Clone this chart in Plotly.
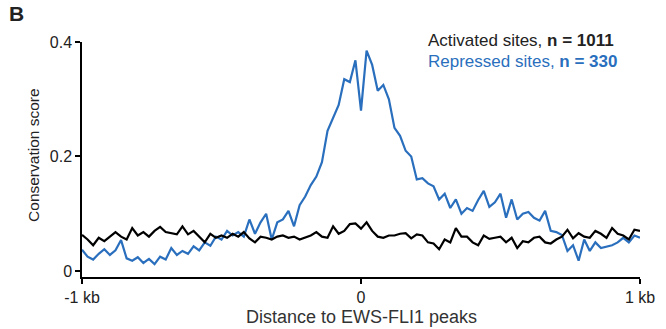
import plotly.graph_objects as go

step = 20
distance_bp = [-1000 + step * i for i in range(101)]

repressed = [
    0.037, 0.025, 0.020, 0.030, 0.038, 0.028, 0.036, 0.054, 0.022, 0.018,
    0.024, 0.014, 0.021, 0.012, 0.025, 0.020, 0.040, 0.028, 0.035, 0.030,
    0.043, 0.036, 0.050, 0.044, 0.060, 0.055, 0.070, 0.062, 0.068, 0.060,
    0.090, 0.065, 0.085, 0.100, 0.055, 0.085, 0.090, 0.105, 0.078, 0.115,
    0.130, 0.150, 0.165, 0.190, 0.245, 0.267, 0.290, 0.335, 0.330, 0.368,
    0.280, 0.385, 0.360, 0.315, 0.325, 0.300, 0.250, 0.236, 0.210, 0.200,
    0.160, 0.162, 0.153, 0.148, 0.125, 0.135, 0.110, 0.125, 0.100, 0.110,
    0.105, 0.124, 0.140, 0.112, 0.120, 0.135, 0.093, 0.125, 0.090, 0.100,
    0.103, 0.093, 0.088, 0.105, 0.070, 0.068, 0.063, 0.035, 0.045, 0.018,
    0.055, 0.035, 0.050, 0.040, 0.043, 0.045, 0.050, 0.058, 0.050, 0.062,
    0.058,
]

activated = [
    0.063, 0.055, 0.045, 0.058, 0.052, 0.060, 0.068, 0.060, 0.055, 0.075,
    0.062, 0.068, 0.060, 0.070, 0.077, 0.068, 0.066, 0.064, 0.078, 0.064,
    0.070, 0.060, 0.050, 0.065, 0.058, 0.062, 0.058, 0.065, 0.060, 0.068,
    0.057, 0.050, 0.060, 0.058, 0.055, 0.060, 0.062, 0.058, 0.060, 0.055,
    0.058, 0.062, 0.068, 0.060, 0.058, 0.078, 0.065, 0.070, 0.082, 0.083,
    0.074, 0.085, 0.070, 0.060, 0.058, 0.062, 0.062, 0.065, 0.066, 0.057,
    0.064, 0.062, 0.050, 0.048, 0.038, 0.055, 0.050, 0.075, 0.060, 0.060,
    0.050, 0.045, 0.062, 0.056, 0.058, 0.060, 0.050, 0.058, 0.040, 0.052,
    0.050, 0.058, 0.060, 0.050, 0.048, 0.055, 0.060, 0.072, 0.057, 0.066,
    0.060, 0.058, 0.070, 0.065, 0.058, 0.075, 0.065, 0.062, 0.055, 0.072,
    0.070,
]

x_tick_vals = [-1000, 0, 1000]
x_tick_text = ["-1 kb", "0", "1 kb"]
y_tick_vals = [0, 0.2, 0.4]
y_tick_text = ["0", "0.2", "0.4"]

blue = "#2a6fbd"
font_family = "Liberation Sans, Arial, sans-serif"

fig = go.Figure()
fig.add_trace(go.Scatter(x=distance_bp, y=repressed, mode="lines",
                         line=dict(color=blue, width=2.2), showlegend=False))
fig.add_trace(go.Scatter(x=distance_bp, y=activated, mode="lines",
                         line=dict(color="black", width=2.2), showlegend=False))

fig.update_layout(
    width=666, height=329,
    margin=dict(l=82, r=26, t=42, b=52),
    paper_bgcolor="white", plot_bgcolor="white",
    font=dict(family=font_family, color="#222222", size=16),
    xaxis=dict(range=[-1000, 1000], tickvals=x_tick_vals, ticktext=x_tick_text,
               showline=True, linecolor="black", linewidth=1.5,
               ticks="outside", ticklen=5, tickwidth=1.5, tickcolor="black",
               showgrid=False, zeroline=False, tickfont=dict(size=16)),
    yaxis=dict(range=[-0.0105, 0.4], tickvals=y_tick_vals, ticktext=y_tick_text,
               showline=True, linecolor="black", linewidth=1.5,
               ticks="outside", ticklen=5, tickwidth=1.5, tickcolor="black",
               showgrid=False, zeroline=False, tickfont=dict(size=16)),
)

fig.add_annotation(text="Conservation score", x=-0.088, y=0.519, xref="paper", yref="paper",
                   textangle=-90, showarrow=False, font=dict(size=15.5, color="#222222"),
                   xanchor="center", yanchor="middle")
fig.add_annotation(text="Distance to EWS-FLI1 peaks", x=0.5, y=-0.17, xref="paper", yref="paper",
                   showarrow=False, font=dict(size=18, color="#333333"),
                   xanchor="center", yanchor="middle")
fig.add_annotation(text="<b>B</b>", x=-0.117, y=1.12, xref="paper", yref="paper",
                   showarrow=False, font=dict(size=21, color="#222222"),
                   xanchor="center", yanchor="middle")
fig.add_annotation(text="Activated sites, <b>n = 1011</b>", x=0.616, y=1.0085,
                   xref="paper", yref="paper", showarrow=False,
                   font=dict(size=17, color="#222222"), xanchor="left", yanchor="middle")
fig.add_annotation(text="Repressed sites, <b>n = 330</b>", x=0.616, y=0.915,
                   xref="paper", yref="paper", showarrow=False,
                   font=dict(size=17, color=blue), xanchor="left", yanchor="middle")

fig.write_html("out.html")
